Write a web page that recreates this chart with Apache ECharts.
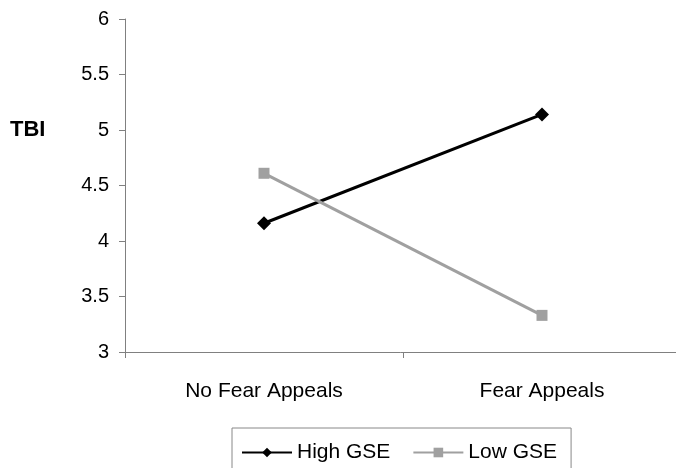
<!DOCTYPE html>
<html><head><meta charset="utf-8">
<script src="https://cdn.jsdelivr.net/npm/echarts@6/dist/echarts.min.js"></script>
<style>html,body{margin:0;padding:0;background:#fff}#c{width:676px;height:468px}</style>
</head><body><div id="c"></div>
<script>
var categories = ["No Fear Appeals", "Fear Appeals"];
var highGSE = [4.16, 5.14];
var lowGSE = [4.61, 3.33];
var yTicks = [3, 3.5, 4, 4.5, 5, 5.5, 6];

var chart = echarts.init(document.getElementById('c'));
var font = 'Liberation Sans, Arial, sans-serif';
chart.setOption({
  animation: false,
  backgroundColor: '#fff',
  grid: {left: 125, top: 19, width: 556, height: 333, containLabel: false, outerBoundsMode: 'none'},
  graphic: [{type: 'text', left: 10, top: 119, style: {text: 'TBI', font: 'bold 22px ' + font, fill: '#000'}}],
  legend: {
    left: 232, top: 428,
    itemWidth: 50, itemHeight: 12, itemGap: 22,
    padding: [14, 14, 30, 9],
    borderColor: '#888', borderWidth: 1,
    textStyle: {fontFamily: font, fontSize: 21, color: '#000'},
    data: [{name: 'High GSE'}, {name: 'Low GSE'}]
  },
  xAxis: {
    type: 'category', data: categories, boundaryGap: true,
    axisLine: {lineStyle: {color: '#808080', width: 1}},
    axisTick: {show: true, length: 6, alignWithLabel: false, lineStyle: {color: '#808080'}},
    axisLabel: {margin: 29, fontFamily: font, fontSize: 21, color: '#000'}
  },
  yAxis: {
    type: 'value', min: yTicks[0], max: yTicks[yTicks.length - 1], interval: 0.5,
    axisLine: {show: true, lineStyle: {color: '#808080', width: 1}},
    axisTick: {show: true, length: 6, lineStyle: {color: '#808080'}},
    splitLine: {show: false},
    axisLabel: {margin: 16, fontFamily: font, fontSize: 20, color: '#000'}
  },
  series: [
    {name: 'High GSE', type: 'line', data: highGSE, symbol: 'diamond', symbolSize: 14,
     lineStyle: {color: '#000', width: 3}, itemStyle: {color: '#000'}},
    {name: 'Low GSE', type: 'line', data: lowGSE, symbol: 'rect', symbolSize: 11,
     lineStyle: {color: '#a0a0a0', width: 3}, itemStyle: {color: '#a0a0a0'}}
  ]
});
</script></body></html>
